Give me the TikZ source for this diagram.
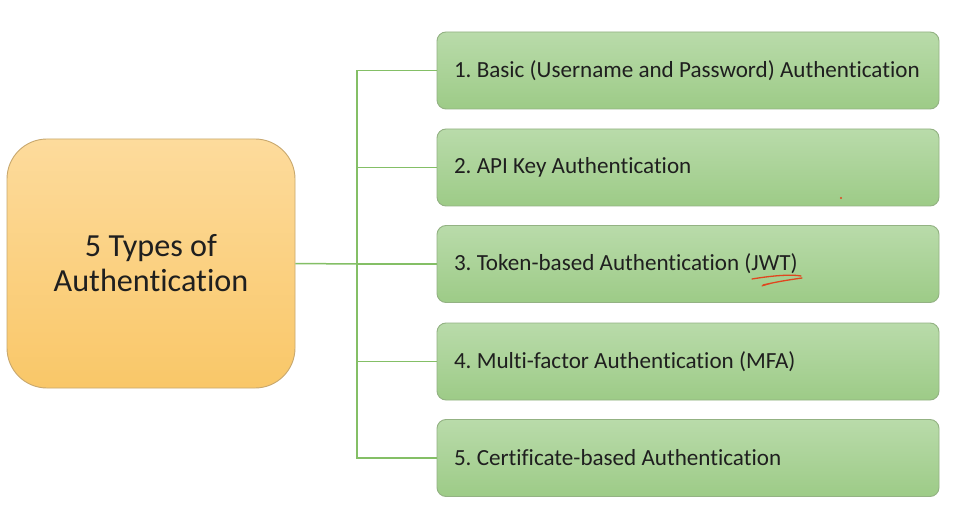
\documentclass[tikz,border=0pt]{standalone}
\usepackage{fontspec}
\setmainfont{Carlito}[Ligatures=NoCommon]
\frenchspacing
\newcommand\myItem[1]{\makebox[468pt][l]{#1}}
\begin{document}
\begin{tikzpicture}[x=1pt,y=-1pt,
  conn/.style={draw=lineG,line width=1.5pt},
  rootbox/.style={draw=orangeB,line width=0.9pt,rounded corners=40pt,
    top color=orangeT,bottom color=orangeD,minimum width=288pt,minimum height=249pt,
    align=center,font=\fontsize{32.2}{35}\selectfont,text=black!88},
  itembox/.style={draw=greenB,line width=0.9pt,rounded corners=9pt,
    top color=greenT,bottom color=greenD,minimum width=502pt,minimum height=77pt,
    inner xsep=17pt,font=\fontsize{23.1}{26}\selectfont,text=black!88},
  ]
\definecolor{lineG}{HTML}{84BF66}
\definecolor{orangeB}{HTML}{C8A86E}
\definecolor{orangeT}{HTML}{FDDB9C}
\definecolor{orangeD}{HTML}{F9C768}
\definecolor{greenB}{HTML}{93B283}
\definecolor{greenT}{HTML}{B9DBAA}
\definecolor{greenD}{HTML}{9DCB87}
\definecolor{scrib}{HTML}{E0461E}
\useasboundingbox (0,0) rectangle (972,513);
\fill[white] (0,0) rectangle (972,513);

\node[rootbox] (root) at (151,263.5) {5 Types of\\Authentication};
\node[itembox] (b1) at (688,70.5) {\myItem{1. Basic (Username and Password) Authentication}};
\node[itembox] (b2) at (688,167.5) {\myItem{2. API Key Authentication}};
\node[itembox] (b3) at (688,264) {\myItem{3. Token-based Authentication (JWT)}};
\node[itembox] (b4) at (688,361.5) {\myItem{4. Multi-factor Authentication (MFA)}};
\node[itembox] (b5) at (688,458) {\myItem{5. Certificate-based Authentication}};

\coordinate (bus) at (357,264);
\draw[conn] (root.east) -- (bus);
\draw[conn] (b1.west) -| (bus) |- (b5.west);
\draw[conn] (bus) |- (b2.west);
\draw[conn] (bus) -- (b3.west);
\draw[conn] (bus) |- (b4.west);

% red underline scribble under JWT
\draw[scrib,line width=1.3pt,line cap=round] (752,279) .. controls (770,276) and (790,274) .. (801,276);
\draw[scrib,line width=1.3pt,line cap=round] (763,285) .. controls (780,281) and (795,279) .. (802,278);
\draw[scrib,line width=1pt,line cap=round] (762,286) -- (770,283.5);
\fill[scrib] (841,198) circle (1.1pt);
\end{tikzpicture}
\end{document}
